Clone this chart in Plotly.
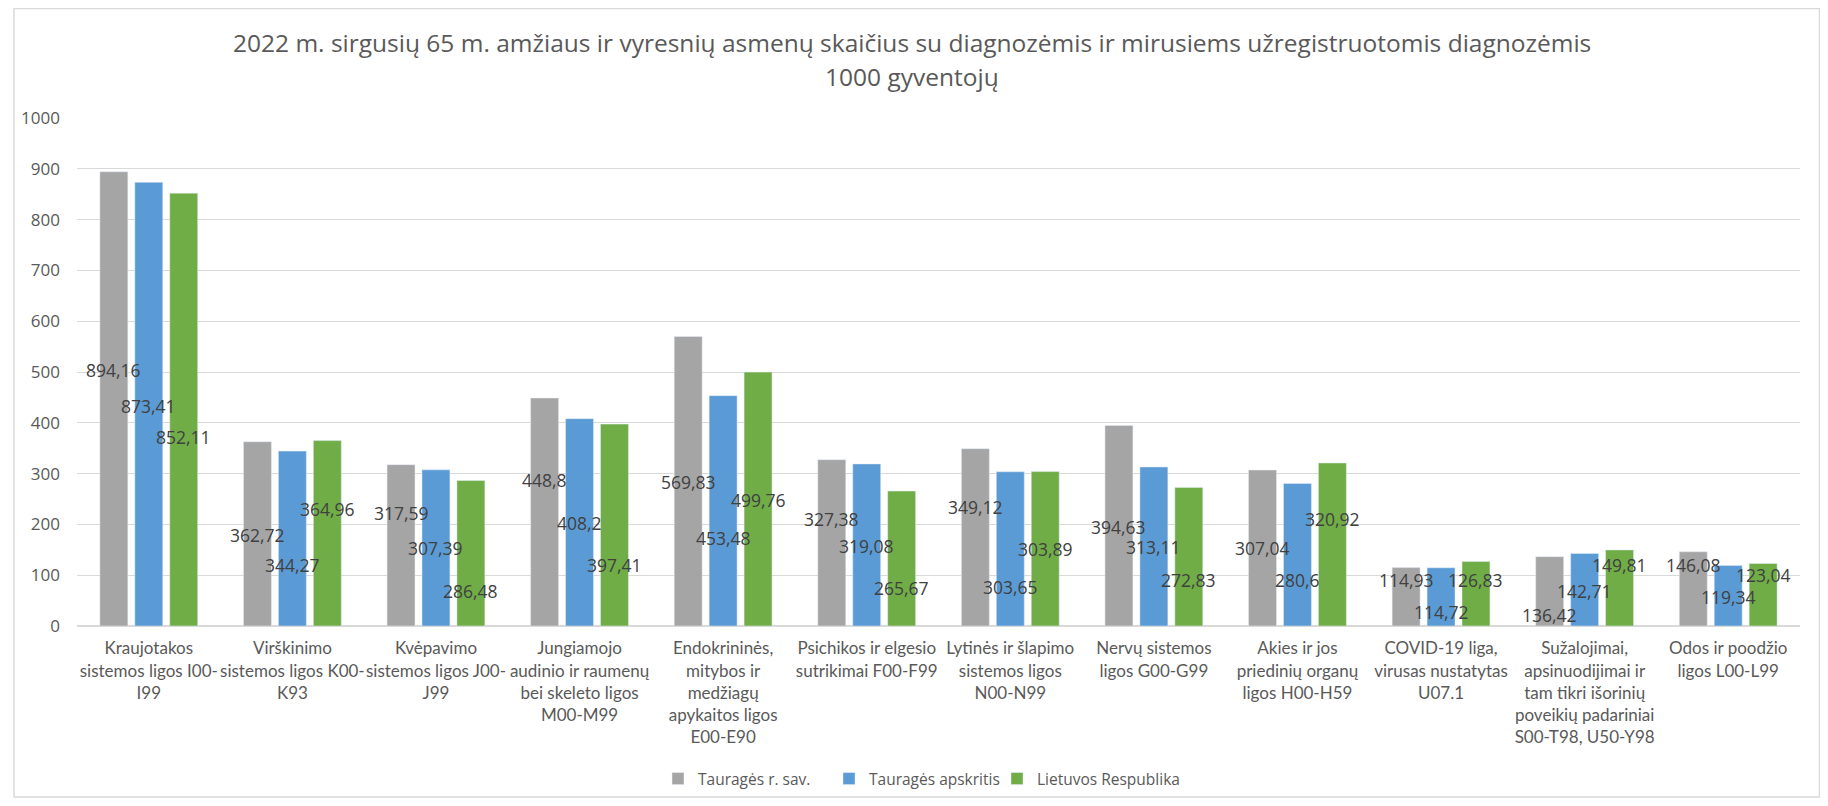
import plotly.graph_objects as go

categories = [
    "Kraujotakos<br>sistemos ligos I00-<br>I99",
    "Virškinimo<br>sistemos ligos K00-<br>K93",
    "Kvėpavimo<br>sistemos ligos J00-<br>J99",
    "Jungiamojo<br>audinio ir raumenų<br>bei skeleto ligos<br>M00-M99",
    "Endokrininės,<br>mitybos ir<br>medžiagų<br>apykaitos ligos<br>E00-E90",
    "Psichikos ir elgesio<br>sutrikimai F00-F99",
    "Lytinės ir šlapimo<br>sistemos ligos<br>N00-N99",
    "Nervų sistemos<br>ligos G00-G99",
    "Akies ir jos<br>priedinių organų<br>ligos H00-H59",
    "COVID-19 liga,<br>virusas nustatytas<br>U07.1",
    "Sužalojimai,<br>apsinuodijimai ir<br>tam tikri išorinių<br>poveikių padariniai<br>S00-T98, U50-Y98",
    "Odos ir poodžio<br>ligos L00-L99",
]

series_names = ["Tauragės r. sav.", "Tauragės apskritis", "Lietuvos Respublika"]

taurages_r_sav = [894.16, 362.72, 317.59, 448.8, 569.83, 327.38, 349.12, 394.63, 307.04, 114.93, 136.42, 146.08]
taurages_apskritis = [873.41, 344.27, 307.39, 408.2, 453.48, 319.08, 303.65, 313.11, 280.6, 114.72, 142.71, 119.34]
lietuvos_respublika = [852.11, 364.96, 286.48, 397.41, 499.76, 265.67, 303.89, 272.83, 320.92, 126.83, 149.81, 123.04]

# heights (in axis units) at which the data labels sit in the reference
label_y_gray = [504, 179, 223, 287, 284, 211, 234, 195, 153, 91, 22, 120]
label_y_blue = [434, 120, 153, 203, 174, 158, 76, 155, 90, 28, 68, 57]
label_y_green = [372, 231, 68, 121, 249, 75, 151, 90, 211, 90, 121, 100]

y_ticks = [0, 100, 200, 300, 400, 500, 600, 700, 800, 900, 1000]

title_line1 = "2022 m. sirgusių 65 m. amžiaus ir vyresnių asmenų skaičius su diagnozėmis ir mirusiems užregistruotomis diagnozėmis"
title_line2 = "1000 gyventojų"

colors = ["#A5A5A5", "#5B9BD5", "#70AD47"]
series = [taurages_r_sav, taurages_apskritis, lietuvos_respublika]
label_ys = [label_y_gray, label_y_blue, label_y_green]

BARGAP = 0.27
BARGROUPGAP = 0.2
FONT = "Open Sans"

# figure sized to fit inside the default 8px page margin
W, H = 1812, 790
L, T = 69, 110
PW, PH = 1723, 508
R = W - L - PW
B = H - T - PH

def px_x(fx):  # figure px -> paper
    return (fx - L) / PW

def px_y(fy):
    return (T + PH - fy) / PH

legend_ids = ["legend", "legend2", "legend3"]
legend_left_px = [650, 821, 989]

fig = go.Figure()
for name, vals, col, lid in zip(series_names, series, colors, legend_ids):
    fig.add_trace(go.Bar(x=categories, y=vals, name=name, marker_color=col,
                         hoverinfo="y+name", legend=lid))

annotations = []
slot = (1 - BARGAP) / 3
for k, (vals, lys) in enumerate(zip(series, label_ys)):
    for i, (v, ly) in enumerate(zip(vals, lys)):
        txt = ("%g" % v).replace(".", ",")
        annotations.append(dict(x=i + (k - 1) * slot, y=ly, xref="x", yref="y",
                                text=txt, showarrow=False,
                                font=dict(family=FONT, size=17.5, color="#404040")))

for txt, fy in [(title_line1, 34), (title_line2, 69)]:
    annotations.append(dict(x=px_x(904), xref="paper", xanchor="center",
                            y=px_y(fy), yref="paper", yanchor="middle",
                            text=txt, showarrow=False,
                            font=dict(family=FONT, size=24.5, color="#595959")))

legend_layout = {}
for lid, lx in zip(legend_ids, legend_left_px):
    legend_layout[lid] = dict(orientation="h", x=px_x(lx), xanchor="left",
                              y=px_y(771), yanchor="middle",
                              font=dict(family=FONT, size=15.5, color="#595959"),
                              itemwidth=30, bgcolor="rgba(0,0,0,0)")

fig.update_layout(
    width=W, height=H,
    margin=dict(l=L, r=R, t=T, b=B, autoexpand=False),
    paper_bgcolor="white", plot_bgcolor="white",
    barmode="group", bargap=BARGAP, bargroupgap=BARGROUPGAP,
    font=dict(family=FONT, color="#595959"),
    xaxis=dict(showgrid=False, showline=True, linecolor="#D9D9D9", linewidth=1,
               ticks="", tickfont=dict(family="Lato", size=17, color="#595959"),
               tickangle=0, fixedrange=True, automargin=False, ticklabelstandoff=7),
    yaxis=dict(range=[0, 1000], tickvals=y_ticks, showgrid=True, gridcolor="#D9D9D9",
               gridwidth=1, zeroline=True, zerolinecolor="#D9D9D9", ticks="",
               tickfont=dict(family=FONT, size=17, color="#595959"), fixedrange=True,
               automargin=False, ticklabelstandoff=16),
    annotations=annotations,
    shapes=[dict(type="rect", xref="paper", yref="paper",
                 x0=px_x(6), x1=px_x(1811.5),
                 y0=px_y(789), y1=px_y(0.5),
                 line=dict(color="#D9D9D9", width=1.5), fillcolor="rgba(0,0,0,0)", layer="below")],
    showlegend=True,
    **legend_layout,
)

fig.write_html("out.html")
